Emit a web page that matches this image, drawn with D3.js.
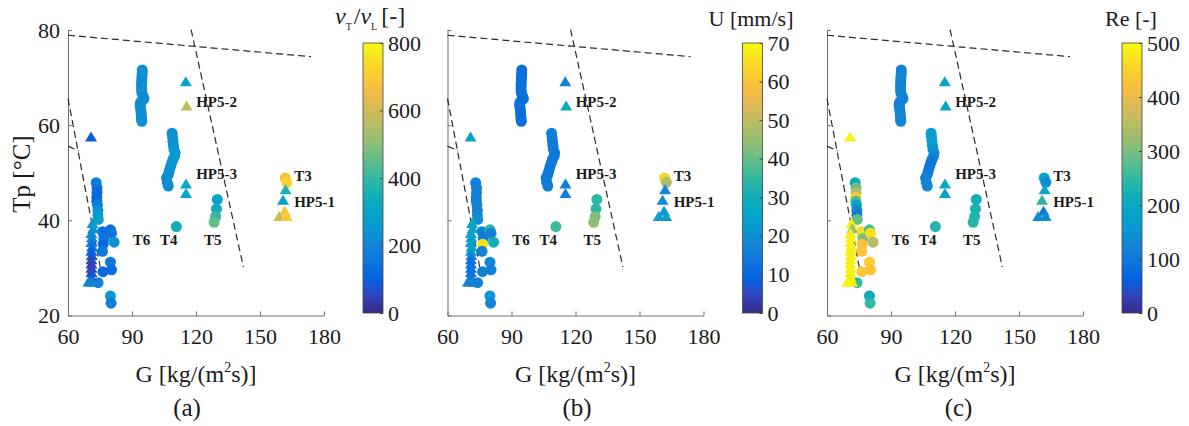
<!DOCTYPE html>
<html>
<head>
<meta charset="utf-8">
<script src="https://cdn.jsdelivr.net/npm/d3@7"></script>
<style>
  body { margin: 0; background: #fff; }
  svg { display: block; }
  text { font-family: "Liberation Serif", "Times New Roman", serif; fill: #1a1a1a; }
</style>
</head>
<body>
<svg id="chart" width="1189" height="426" font-family="Liberation Serif, Times New Roman, serif"></svg>
<script>
// ---- Circle markers: G [kg/(m2 s)], Tp [°C] and the three coloured quantities ----
const circleG = [
  94.8, 94.8, 94.7, 94.6, 94.6, 94.5, 94.5, 94.5, 94.6, 95.3, 95.6, 94.8, 94.0, 93.8, 94.0, 94.2, 94.3, 94.4, 94.5, 94.6,
  108.8, 109.0, 109.2, 109.4, 109.6, 110.2, 110.0, 109.2, 108.6, 108.0, 107.5, 107.0, 106.2, 106.5, 107.0,
  110.8,
  130.0, 129.6, 129.2, 128.5,
  161.8, 162.6,
  73.2, 73.6, 73.6, 73.5, 73.5, 73.8, 74.0, 74.0, 74.2,
  76.2, 76.8, 76.5, 76.2, 79.9, 80.4, 81.6, 79.9, 80.4, 76.4, 74.1, 79.9, 80.2
];
const circleTp = [
  71.6, 71.0, 70.4, 69.8, 69.2, 68.6, 68.0, 67.4, 66.8, 66.0, 65.6, 65.2, 64.8, 64.2, 63.6, 63.0, 62.4, 61.8, 61.2, 60.8,
  58.3, 57.5, 56.6, 55.8, 55.0, 54.2, 53.5, 52.8, 52.0, 51.2, 50.4, 49.6, 48.9, 48.0, 47.2,
  38.7,
  44.4, 42.4, 40.8, 39.6,
  48.9, 48.0,
  47.9, 46.8, 45.8, 44.8, 44.0, 43.2, 42.1, 41.1, 40.2,
  37.6, 36.2, 35.0, 33.5, 38.0, 37.3, 35.4, 31.2, 29.6, 29.2, 26.9, 24.1, 22.6
];
const circleNuRatio = [
  225, 228, 230, 226, 224, 222, 225, 228, 230, 215, 210, 220, 230, 232, 228, 226, 225, 222, 228, 230,
  225, 230, 235, 240, 250, 255, 262, 265, 258, 250, 240, 235, 230, 228, 225,
  340,
  290, 320, 400, 455,
  690, 720,
  170, 150, 125, 120, 130, 170, 230, 260, 280,
  140, 150, 120, 170, 130, 150, 240, 160, 130, 120, 180, 260, 180
];
const circleU = [
  12, 12, 12, 12, 12, 12, 12, 12, 12, 12, 13, 12, 12, 12, 12, 12, 12, 12, 12, 12,
  16, 16, 15, 15, 15, 15, 14, 14, 14, 14, 14, 14, 14, 15, 15,
  36,
  34, 34, 42, 44,
  63, 48,
  16, 16, 16, 16, 16, 17, 17, 18, 20,
  17, 15, 66, 17, 33, 17, 30, 18, 17, 17, 17, 22, 17
];
const circleRe = [
  122, 124, 125, 126, 125, 124, 125, 126, 124, 122, 120, 118, 120, 122, 124, 125, 126, 125, 124, 125,
  165, 170, 172, 175, 160, 150, 130, 110, 100, 95, 100, 110, 120, 125, 125,
  235,
  215, 225, 230, 235,
  190, 145,
  200, 290, 340, 440, 260, 190, 130, 110, 290,
  470, 300, 420, 430, 270, 470, 350, 440, 430, 430, 250, 200, 250
];

// ---- Triangle markers ----
const triangleG = [
  115.2, 115.6,
  115.3, 115.3,
  162.0, 160.8, 161.5, 159.0, 162.5,
  70.8,
  71.5, 71.8, 71.0, 71.2, 71.0, 71.3, 71.0, 71.2, 71.0, 71.0, 71.0, 71.0, 71.0, 69.6, 71.8, 70.6
];
const triangleTp = [
  69.1, 64.0,
  47.6, 45.6,
  46.4, 44.2, 41.9, 40.8, 40.8,
  57.5,
  39.3, 38.2, 37.2, 36.3, 35.3, 34.4, 33.5, 32.6, 31.7, 30.8, 29.9, 29.0, 28.0, 27.0, 27.0, 27.0
];
const triangleNuRatio = [
  300, 575,
  310, 300,
  360, 290, 680, 590, 700,
  90,
  260, 260, 230, 200, 170, 140, 110, 90, 60, 40, 55, 70, 90, 200, 200, 190
];
const triangleU = [
  17, 28,
  16, 16,
  17, 19, 22, 24, 24,
  25,
  26, 27, 26, 25, 24, 24, 23, 18, 13, 12, 12, 13, 14, 17, 17, 17
];
const triangleRe = [
  185, 190,
  195, 180,
  190, 240, 100, 140, 140,
  490,
  490, 330, 490, 490, 490, 490, 490, 490, 490, 490, 490, 490, 490, 490, 490, 490
];

// ---- Text labels placed in data coordinates ----
const labelText = ["T6", "T4", "T5", "HP5-2", "HP5-3", "T3", "HP5-1"];
const labelG    = [90.3, 103.1, 123.7, 120.1, 120.1, 166.0, 166.0];
const labelTp   = [35.9, 35.9, 35.9, 64.9, 49.8, 49.3, 44.0];

// ---- Regime boundaries (dashed), each a polyline of [G, Tp] ----
const boundaryLines = [
  [[60, 78.9], [173.9, 74.4]],
  [[117.7, 80.1], [142.2, 30.2]],
  [[60, 65.6], [75.1, 30.2]],
  [[60, 55.6], [65.0, 54.6]]
];

// ---- Axis ticks ----
const xTicks = [60, 90, 120, 150, 180];
const yTicks = [20, 40, 60, 80];
const nuTicks = [0, 200, 400, 600, 800];
const uTicks  = [0, 10, 20, 30, 40, 50, 60, 70];
const reTicks = [0, 100, 200, 300, 400, 500];

// Parula colour map anchors (rows 1,5,9,...,61,64 of the 64-entry table)
const parulaRGB = [
  [0.2081, 0.1663, 0.5292], [0.1959, 0.2645, 0.7279], [0.0117, 0.3875, 0.8820],
  [0.0498, 0.4586, 0.8641], [0.0793, 0.5200, 0.8312], [0.0343, 0.5966, 0.8199],
  [0.0228, 0.6535, 0.7768], [0.0843, 0.6928, 0.7062], [0.2178, 0.7250, 0.6193],
  [0.3953, 0.7459, 0.5244], [0.5709, 0.7485, 0.4494], [0.7184, 0.7411, 0.3905],
  [0.8507, 0.7299, 0.3360], [0.9739, 0.7314, 0.2666], [0.9880, 0.8066, 0.1794],
  [0.9589, 0.8949, 0.1132], [0.9763, 0.9831, 0.0538]
];
const parulaPos = [0, 4, 8, 12, 16, 20, 24, 28, 32, 36, 40, 44, 48, 52, 56, 60, 63].map(i => i / 63);
const parulaCol = parulaRGB.map(c => d3.rgb(c[0] * 255, c[1] * 255, c[2] * 255).formatHex());
const parula = d3.scaleLinear().domain(parulaPos).range(parulaCol).interpolate(d3.interpolateRgb).clamp(true);

const FONT = "Liberation Serif, Times New Roman, serif";
const svg = d3.select("#chart");
const defs = svg.append("defs");

const panels = [
  { key: "a", left: 68,    cVals: circleNuRatio, tVals: triangleNuRatio, max: 800, ticks: nuTicks, yLabels: true,  caption: "(a)", capShift: -9 },
  { key: "b", left: 447.5, cVals: circleU,       tVals: triangleU,       max: 70,  ticks: uTicks,  yLabels: false, caption: "(b)", capShift: 1.5 },
  { key: "c", left: 827,   cVals: circleRe,      tVals: triangleRe,      max: 500, ticks: reTicks, yLabels: false, caption: "(c)", capShift: 3.5 }
];

const plotW = 256, yTop = 30, yBottom = 315.5;
const cbTop = 43, cbBottom = 313, cbW = 20, cbOffset = 295;
const axisColor = "#6e6e6e";

// Colour-bar gradient (bottom = 0, top = max)
const grad = defs.append("linearGradient").attr("id", "parulaGrad")
  .attr("x1", 0).attr("y1", 1).attr("x2", 0).attr("y2", 0);
d3.range(0, 1.0001, 1 / 32).forEach(t => {
  grad.append("stop").attr("offset", t).attr("stop-color", parula(t));
});

const triPath = "M0,-5.6L6,4.4L-6,4.4Z";

panels.forEach(p => {
  const x = d3.scaleLinear().domain([60, 180]).range([p.left, p.left + plotW]);
  const y = d3.scaleLinear().domain([20, 80]).range([yBottom, yTop]);
  const color = v => parula(v / p.max);
  const g = svg.append("g").attr("class", "panel-" + p.key);

  // axes
  const xAxis = g.append("g").attr("transform", `translate(0,${yBottom})`)
    .call(d3.axisBottom(x).tickValues(xTicks).tickSizeInner(-4).tickSizeOuter(0).tickPadding(13));
  const yAxis = g.append("g").attr("transform", `translate(${p.left},0)`)
    .call(d3.axisLeft(y).tickValues(yTicks).tickSizeInner(-4).tickSizeOuter(0).tickPadding(8)
      .tickFormat(p.yLabels ? d3.format("d") : () => ""));
  [xAxis, yAxis].forEach(ax => {
    ax.attr("font-family", FONT).attr("font-size", 22);
    ax.select(".domain").attr("stroke", axisColor).attr("stroke-width", 1);
    ax.selectAll(".tick line").attr("stroke", axisColor);
    ax.selectAll(".tick text").attr("font-size", 22).attr("fill", "#262626");
  });

  // dashed boundaries
  const line = d3.line().x(d => x(d[0])).y(d => y(d[1]));
  g.selectAll("path.boundary").data(boundaryLines).join("path")
    .attr("class", "boundary")
    .attr("d", line)
    .attr("fill", "none")
    .attr("stroke", "#2a2a2a")
    .attr("stroke-width", 1.2)
    .attr("stroke-dasharray", "7,4");

  // circles
  g.selectAll("circle.pt").data(circleG.map((gv, i) => i)).join("circle")
    .attr("class", "pt")
    .attr("cx", i => x(circleG[i]))
    .attr("cy", i => y(circleTp[i]))
    .attr("r", 5.5)
    .attr("fill", i => color(p.cVals[i]));

  // triangles
  g.selectAll("path.tri").data(triangleG.map((gv, i) => i)).join("path")
    .attr("class", "tri")
    .attr("d", triPath)
    .attr("transform", i => `translate(${x(triangleG[i])},${y(triangleTp[i])})`)
    .attr("fill", i => color(p.tVals[i]));

  // group labels
  g.selectAll("text.lbl").data(labelText).join("text")
    .attr("class", "lbl")
    .attr("x", (d, i) => x(labelG[i]))
    .attr("y", (d, i) => y(labelTp[i]))
    .attr("dy", "0.35em")
    .attr("font-size", 15)
    .attr("font-weight", "bold")
    .attr("fill", "#111")
    .text(d => d);

  // x label with superscript
  const cx = p.left + plotW / 2;
  const xl = g.append("text").attr("x", cx).attr("y", 382).attr("text-anchor", "middle")
    .attr("font-size", 24).attr("fill", "#262626");
  xl.append("tspan").text("G [kg/(m");
  xl.append("tspan").attr("font-size", 14).attr("dy", -10).text("2");
  xl.append("tspan").attr("dy", 10).text("s)]");

  // caption
  g.append("text").attr("x", cx + p.capShift).attr("y", 416).attr("text-anchor", "middle")
    .attr("font-size", 25).attr("fill", "#111").text(p.caption);

  // colour bar
  const cbX = p.left + cbOffset;
  const cbScale = d3.scaleLinear().domain([0, p.max]).range([cbBottom, cbTop]);
  g.append("rect").attr("x", cbX).attr("y", cbTop).attr("width", cbW).attr("height", cbBottom - cbTop)
    .attr("fill", "url(#parulaGrad)").attr("stroke", "#444").attr("stroke-width", 0.8);
  const cbAxis = g.append("g").attr("transform", `translate(${cbX + cbW},0)`)
    .call(d3.axisRight(cbScale).tickValues(p.ticks).tickSizeInner(-3).tickSizeOuter(0).tickPadding(5));
  cbAxis.attr("font-family", FONT).attr("font-size", 22);
  cbAxis.select(".domain").remove();
  cbAxis.selectAll(".tick line").attr("stroke", "#444");
  cbAxis.selectAll(".tick text").attr("font-size", 22).attr("fill", "#262626");
});

// y label (only on the first panel)
svg.append("text")
  .attr("transform", "translate(30,174) rotate(-90)")
  .attr("text-anchor", "middle")
  .attr("font-size", 25)
  .attr("fill", "#262626")
  .text("Tp [°C]");

// colour-bar titles
const t1 = svg.append("text").attr("x", 335).attr("y", 24).attr("font-size", 24).attr("fill", "#262626");
t1.append("tspan").attr("font-style", "italic").text("ν");
t1.append("tspan").attr("font-size", 10).attr("dy", 6).text("T");
t1.append("tspan").attr("dy", -6).attr("dx", 2).text("/");
t1.append("tspan").attr("font-style", "italic").text("ν");
t1.append("tspan").attr("font-size", 10).attr("dy", 6).text("L");
t1.append("tspan").attr("dy", -6).attr("dx", 4).text("[-]");

svg.append("text").attr("x", 751).attr("y", 26).attr("text-anchor", "middle")
  .attr("font-size", 22).attr("fill", "#262626").text("U [mm/s]");
svg.append("text").attr("x", 1131).attr("y", 26).attr("text-anchor", "middle")
  .attr("font-size", 22).attr("fill", "#262626").text("Re [-]");
</script>
</body>
</html>
